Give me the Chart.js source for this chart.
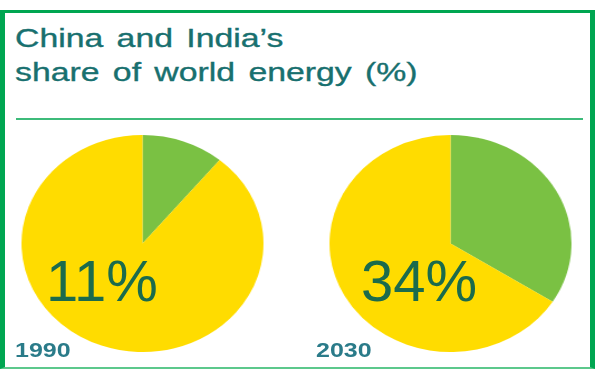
<!DOCTYPE html>
<html>
<head>
<meta charset="utf-8">
<script src="https://cdn.jsdelivr.net/npm/chart.js@4.4.1/dist/chart.umd.min.js"></script>
<style>
  html, body { margin: 0; padding: 0; background: #fff; }
  body { width: 597px; height: 370px; position: relative; overflow: hidden;
         font-family: "Liberation Sans", Arial, sans-serif; }
  .frame { position: absolute; left: 0; top: 10px; width: 585px; height: 354px;
           border-style: solid; border-color: #00a651; border-width: 3px 5px 2px 5px;
           border-bottom-color: #5cc88c; }
  .title { position: absolute; left: 15px; top: 21px; font-size: 26px; line-height: 34px;
           color: #18706f; white-space: nowrap; transform: scaleX(1.3); transform-origin: left top;
           word-spacing: 3px; -webkit-text-stroke: 0.35px #18706f; }
  .rule { position: absolute; left: 16px; top: 118px; width: 567px; height: 2px; background: #3dbb7a; }
  .pie { position: absolute; top: 135px; width: 217px; height: 217px;
         transform: scaleX(1.115); transform-origin: center; }
  .share { position: absolute; top: 252px; font-size: 58px; line-height: 58px; color: #1b6b4c; }
  .year { position: absolute; top: 340px; font-size: 20px; line-height: 20px; font-weight: bold;
          color: #2a7b89; transform: scaleX(1.25); transform-origin: left top; }
</style>
</head>
<body>
<div class="frame"></div>
<div class="title">China and India’s<br>share of world energy (%)</div>
<div class="rule"></div>

<div class="pie" style="left:33.5px"><canvas id="pie0" width="217" height="217"></canvas></div>
<div class="pie" style="left:341.5px"><canvas id="pie1" width="217" height="217"></canvas></div>

<div class="share" id="share0" style="left:46px"></div>
<div class="share" id="share1" style="left:361px"></div>
<div class="year" id="year0" style="left:15px"></div>
<div class="year" id="year1" style="left:316px"></div>

<script>
// share of world energy use, China + India vs rest of world
const years = ['1990', '2030'];
const chinaIndia = [11, 34];
const restOfWorld = [89, 66];

const sliceColors = ['#7ac143', '#ffdc00'];

years.forEach(function (year, i) {
  new Chart(document.getElementById('pie' + i), {
    type: 'pie',
    data: {
      labels: ['China and India', 'Rest of world'],
      datasets: [{
        data: [chinaIndia[i], restOfWorld[i]],
        backgroundColor: sliceColors,
        borderWidth: 0
      }]
    },
    options: {
      responsive: false,
      animation: false,
      rotation: 0,
      layout: { padding: 0 },
      plugins: {
        legend: { display: false },
        tooltip: { enabled: false }
      }
    }
  });

  document.getElementById('share' + i).textContent = chinaIndia[i] + '%';
  document.getElementById('year' + i).textContent = year;
});
</script>
</body>
</html>
